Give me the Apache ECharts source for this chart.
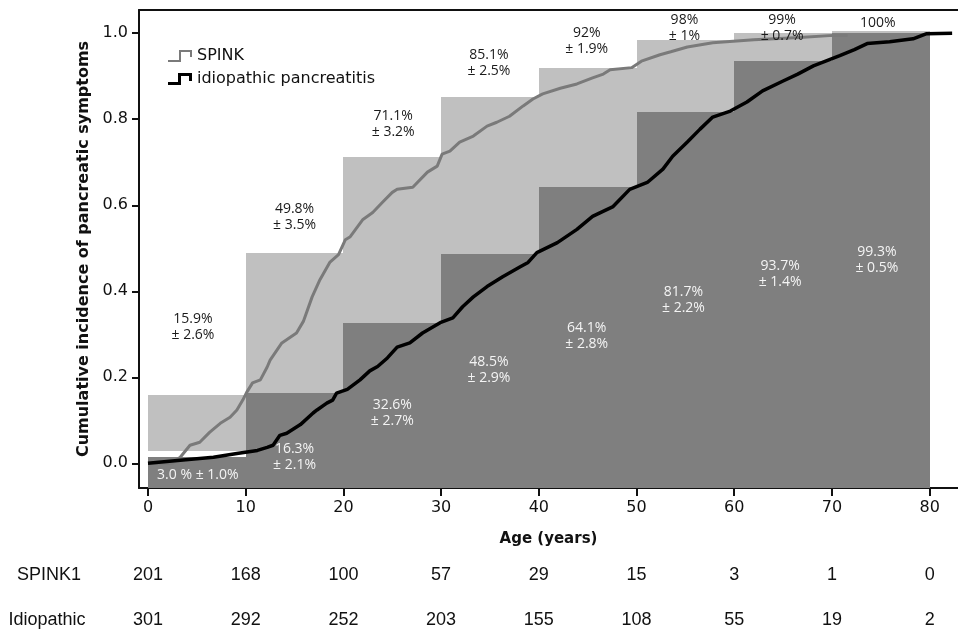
<!DOCTYPE html>
<html><head><meta charset="utf-8">
<script src="https://cdn.jsdelivr.net/npm/echarts@6/dist/echarts.min.js"></script>
<style>html,body{margin:0;padding:0;background:#fff}#c{width:958px;height:635px}</style>
</head><body><div id="c"></div>
<script>
// ---------- data ----------
const xTicks = [0, 10, 20, 30, 40, 50, 60, 70, 80];
const yTicks = [0, 0.2, 0.4, 0.6, 0.8, 1.0];
const decadeStart = [0, 10, 20, 30, 40, 50, 60, 70];

// bar heights (cumulative incidence per decade)
const spinkBarTop  = [0.159, 0.49, 0.713, 0.852, 0.92, 0.985, 1.0, 1.005];
const spinkBarBase = [0.028, 0.163, 0.326, 0.487, 0.643, 0.818, 0.935, 1.0];
const idioBarTop   = [0.014, 0.163, 0.326, 0.487, 0.643, 0.818, 0.935, 1.0];

// bar annotation texts
const spinkEst = ['15.9', '49.8', '71.1', '85.1', '92', '98', '99', '100'];
const spinkSE  = ['2.6', '3.5', '3.2', '2.5', '1.9', '1', '0.7', ''];
const idioEst  = ['3.0', '16.3', '32.6', '48.5', '64.1', '81.7', '93.7', '99.3'];
const idioSE   = ['1.0', '2.1', '2.7', '2.9', '2.8', '2.2', '1.4', '0.5'];

// Kaplan-Meier style cumulative incidence curves [age, value]
const spinkCurve = [[0,0],[2.5,0],[3.3,0.014],[4.3,0.042],[5.3,0.049],[6.3,0.072],[7.4,0.093],[8.4,0.107],[9.1,0.124],[9.7,0.147],[10.1,0.165],[10.7,0.187],[11.5,0.194],[12.2,0.224],[12.5,0.24],[13.7,0.28],[15.2,0.303],[15.9,0.33],[16.8,0.387],[17.6,0.427],[18.6,0.467],[19.5,0.485],[20.2,0.52],[20.7,0.527],[22,0.567],[23,0.583],[24,0.607],[25,0.63],[25.5,0.637],[27.1,0.642],[28.6,0.677],[29.6,0.691],[30.1,0.719],[30.9,0.726],[31.9,0.747],[33.3,0.761],[34.7,0.784],[35.7,0.793],[37,0.807],[38.4,0.831],[39.4,0.847],[40.4,0.859],[42.2,0.872],[43.9,0.882],[45.5,0.896],[46.6,0.905],[47.3,0.915],[49.5,0.92],[50.5,0.935],[52.4,0.95],[53.5,0.957],[55.2,0.968],[57.8,0.978],[62,0.985],[66.7,0.99],[70.1,0.995],[71.6,0.995]];
const idioCurve = [[0,0],[3.3,0.007],[6.7,0.014],[9.1,0.023],[11.2,0.03],[12.2,0.037],[12.8,0.042],[13.5,0.065],[14.2,0.07],[15.6,0.09],[16.9,0.117],[17.3,0.124],[18.3,0.14],[18.9,0.147],[19.3,0.163],[20.4,0.172],[21.7,0.194],[22.7,0.215],[23.5,0.225],[24.5,0.245],[25.5,0.27],[26.8,0.28],[28.1,0.303],[29.9,0.327],[31.2,0.338],[32.2,0.364],[33.3,0.387],[34.7,0.411],[36.3,0.434],[38.1,0.457],[38.9,0.467],[39.8,0.49],[41.9,0.513],[43.9,0.544],[45.5,0.574],[46.3,0.583],[47.6,0.597],[49.3,0.637],[51.1,0.653],[52.7,0.684],[53.7,0.714],[55.2,0.747],[56.5,0.777],[57.8,0.805],[59.6,0.819],[61.3,0.84],[62.9,0.866],[65,0.889],[66.5,0.905],[68.1,0.924],[70.8,0.948],[72.3,0.962],[73.6,0.976],[75.9,0.98],[78.3,0.987],[79.7,0.999],[82.3,1.0]];

// numbers at risk
const spinkRisk = [201, 168, 100, 57, 29, 15, 3, 1, 0];
const idioRisk  = [301, 292, 252, 203, 155, 108, 55, 19, 2];

// ---------- layout (annotation anchors in data units) ----------
const spinkLabelAt = [[4.6,0.316],[15,0.573],[25.1,0.788],[34.9,0.93],[44.9,0.981],[54.9,1.012],[64.9,1.012],[74.7,1.024]];
const idioLabelAt  = [[5.1,-0.027],[15,0.015],[25,0.116],[34.9,0.216],[44.9,0.295],[54.8,0.38],[64.7,0.439],[74.6,0.473]];

const X_MIN = -0.92, X_MAX = 82.9, Y_MIN = -0.0574, Y_MAX = 1.054;
const LIGHT = '#c0c0c0', DARK = '#7f7f7f', SPINK_C = '#7a7a7a', IDIO_C = '#000000';

const chart = echarts.init(document.getElementById('c'), null, {renderer: 'canvas'});

function rectRender(color) {
  return function (params, api) {
    const p0 = api.coord([api.value(0), api.value(3)]);
    const p1 = api.coord([api.value(1), api.value(2)]);
    const x0 = Math.round(p0[0]), x1 = Math.round(p1[0]);
    const y0 = Math.round(p0[1]), y1 = Math.round(p1[1]);
    return {type: 'rect', shape: {x: x0, y: y0, width: x1 - x0, height: y1 - y0}, style: {fill: color}};
  };
}
const labelTexts = {
  '#1a1a1a': spinkEst.map((e, i) => spinkSE[i] ? e + '%\n\u00b1 ' + spinkSE[i] + '%' : e + '%'),
  '#f4f4f4': idioEst.map((e, i) => i === 0 ? e + ' % \u00b1 ' + idioSE[i] + '%' : e + '%\n\u00b1 ' + idioSE[i] + '%')
};
function textRender(color) {
  return function (params, api) {
    const p = api.coord([api.value(0), api.value(1)]);
    const d = params.dataIndex;
    return {type: 'text', x: p[0], y: p[1], style: {
      text: labelTexts[color][d], fill: color, font: '14px "Open Sans"',
      align: 'center', verticalAlign: 'middle', lineHeight: 16}};
  };
}

const axisCommon = {type: 'value', min: X_MIN, max: X_MAX, splitLine: {show: false}};

chart.setOption({
  animation: false,
  backgroundColor: '#fff',
  grid: {left: 139, top: 10, width: 819, height: 478, containLabel: false},
  legend: {
    orient: 'vertical', left: 163, top: 43, itemWidth: 24, itemHeight: 12, itemGap: 7,
    selectedMode: false,
    textStyle: {fontFamily: 'DejaVu Sans', fontSize: 16, color: '#111'},
    itemStyle: {borderWidth: 0},
    data: [
      {name: 'SPINK', icon: 'path://M0,10 L11,10 L11,0 L24,0 L24,7 L22,7 L22,2 L13,2 L13,12 L0,12 Z'},
      {name: 'idiopathic pancreatitis', icon: 'path://M0,9 L10,9 L10,0 L24,0 L24,8 L21,8 L21,3 L13,3 L13,12 L0,12 Z'}
    ]
  },
  xAxis: [
    Object.assign({}, axisCommon, {
      position: 'bottom',
      axisLine: {onZero: false, lineStyle: {color: '#111', width: 2}},
      axisTick: {customValues: xTicks, length: 8, lineStyle: {color: '#111', width: 2}},
      axisLabel: {customValues: xTicks, fontFamily: 'DejaVu Sans', fontSize: 16, color: '#111', margin: 12},
      name: 'Age (years)', nameLocation: 'middle', nameGap: 44,
      nameTextStyle: {fontFamily: 'DejaVu Sans', fontWeight: 'bold', fontSize: 15, color: '#111'}
    }),
    Object.assign({}, axisCommon, {
      position: 'top',
      axisLine: {onZero: false, lineStyle: {color: '#111', width: 2}},
      axisTick: {show: false}, axisLabel: {show: false}
    }),
    Object.assign({}, axisCommon, {
      position: 'bottom', offset: 78,
      axisLine: {show: false}, axisTick: {show: false},
      axisLabel: {customValues: xTicks, margin: 0, fontFamily: 'Liberation Sans', fontSize: 18, color: '#111',
        formatter: v => String(spinkRisk[Math.round(v / 10)])}
    }),
    Object.assign({}, axisCommon, {
      position: 'bottom', offset: 123,
      axisLine: {show: false}, axisTick: {show: false},
      axisLabel: {customValues: xTicks, margin: 0, fontFamily: 'Liberation Sans', fontSize: 18, color: '#111',
        formatter: v => String(idioRisk[Math.round(v / 10)])}
    })
  ],
  yAxis: {
    type: 'value', min: Y_MIN, max: Y_MAX, splitLine: {show: false},
    axisLine: {show: true, onZero: false, lineStyle: {color: '#111', width: 2}},
    axisTick: {show: true, customValues: yTicks, length: 7, lineStyle: {color: '#111', width: 2}},
    axisLabel: {customValues: yTicks, formatter: v => v.toFixed(1), fontFamily: 'DejaVu Sans', fontSize: 16, color: '#111', margin: 11},
    name: 'Cumulative incidence of pancreatic symptoms', nameLocation: 'middle', nameGap: 41,
    nameTextStyle: {fontFamily: 'DejaVu Sans', fontWeight: 'bold', fontSize: 16, color: '#111'}
  },
  graphic: [
    {type: 'text', x: 49, y: 575, style: {text: 'SPINK1', font: '18px "Liberation Sans"', fill: '#111', align: 'center', verticalAlign: 'middle'}},
    {type: 'text', x: 47, y: 620, style: {text: 'Idiopathic', font: '18px "Liberation Sans"', fill: '#111', align: 'center', verticalAlign: 'middle'}}
  ],
  series: [
    {type: 'custom', silent: true, z: 1, renderItem: rectRender(LIGHT), encode: {x: [0, 1], y: [2, 3]},
      data: decadeStart.map((s, i) => [s, s + 10, spinkBarBase[i], spinkBarTop[i]])},
    {type: 'custom', silent: true, z: 1, renderItem: rectRender(DARK), encode: {x: [0, 1], y: [2, 3]},
      data: decadeStart.map((s, i) => [s, s + 10, Y_MIN, idioBarTop[i]])},
    {name: 'SPINK', type: 'line', showSymbol: false, z: 3, color: SPINK_C,
      lineStyle: {color: SPINK_C, width: 3}, data: spinkCurve},
    {name: 'idiopathic pancreatitis', type: 'line', showSymbol: false, z: 4, color: IDIO_C,
      lineStyle: {color: IDIO_C, width: 3.5}, data: idioCurve},
    {type: 'custom', silent: true, z: 5, renderItem: textRender('#1a1a1a'), encode: {x: 0, y: 1}, data: spinkLabelAt},
    {type: 'custom', silent: true, z: 5, renderItem: textRender('#f4f4f4'), encode: {x: 0, y: 1}, data: idioLabelAt}
  ]
});
</script></body></html>
